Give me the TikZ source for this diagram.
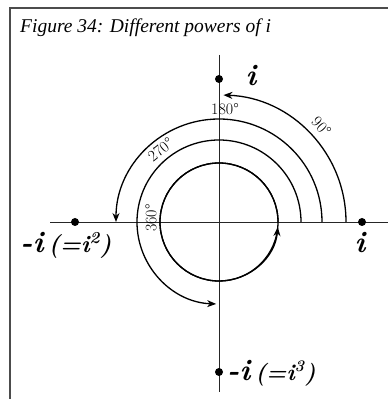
\documentclass[tikz,border=0pt]{standalone}
\usepackage{fontspec}
\newfontfamily\titlefont{Liberation Serif}
\usetikzlibrary{arrows.meta,calc}
\begin{document}
\begin{tikzpicture}[x=1pt,y=1pt,
  arcline/.style={line width=1.3pt, black},
  axisline/.style={line width=0.9pt, black!85},
  tipped/.style={-{Stealth[length=9pt,width=7pt]}},
  dotnode/.style={circle, fill=black, inner sep=0pt, minimum size=8pt},
  deg/.style={font=\fontsize{16}{16}\selectfont, inner sep=0pt},
  biglabel/.style={font=\fontsize{30}{30}\selectfont\bfseries\itshape, inner sep=0pt}]
\useasboundingbox (0,0) rectangle (388,399);
\clip (0,0) rectangle (388,399);
\fill[white] (0,0) rectangle (388,399);
% frame (only top and left visible)
\draw[line width=2pt, black!70] (10,-10) -- (10,391) -- (400,391);
% title
\node[anchor=base west, inner sep=0pt, font=\titlefont\fontsize{19.5}{19.5}\selectfont\itshape] (title) at (20,366) {Figure 34: Different powers of i};
% axes
\coordinate (O) at (219,177);
\coordinate (vtop) at (219,344);
\coordinate (vbot) at (219,7);
\coordinate (hleft) at (50,177);
\coordinate (hright) at (392,177);
\draw[axisline] (vtop) -- (vbot);
\draw[axisline] (hleft) -- (hright);
% dots
\node[dotnode] (pi) at (219,320) {};
\node[dotnode] (pmi) at (75,177) {};
\node[dotnode] (pone) at (362,177) {};
\node[dotnode] (pmi3) at (219,27) {};
% big labels
\node[biglabel] (li) at (251,323) {i};
\node[biglabel] (lone) at (360,156) {i};
\node[biglabel, anchor=center] (lmi) at (66,154) {-i\,{\fontsize{24}{24}\selectfont(=i\textsuperscript{2})}};
\node[biglabel, anchor=west] (lmi3) at (227,26) {-i\,{\fontsize{23}{23}\selectfont(=i\textsuperscript{3})}};
% arcs
\draw[arcline,tipped] ($(O)+(0:127)$) arc[start angle=0,end angle=88,radius=127];
\draw[arcline,tipped] ($(O)+(0:103)$) arc[start angle=0,end angle=180,radius=103];
\draw[arcline,tipped] ($(O)+(0:82)$) arc[start angle=0,end angle=268,radius=82];
\draw[arcline] (O) circle[radius=59];
\draw[arcline,tipped] ($(O)+(0:59)$) arc[start angle=0,end angle=355,radius=59];
% degree labels
\node[deg, rotate=-47] (d90) at ($(O)+(43:140)$) {90\textdegree};
\node[deg] (d180) at (225,290) {180\textdegree};
\node[deg, rotate=39] (d270) at ($(O)+(129:93)$) {270\textdegree};
\node[deg, rotate=90] (d360) at (151,181) {360\textdegree};
\end{tikzpicture}
\end{document}
